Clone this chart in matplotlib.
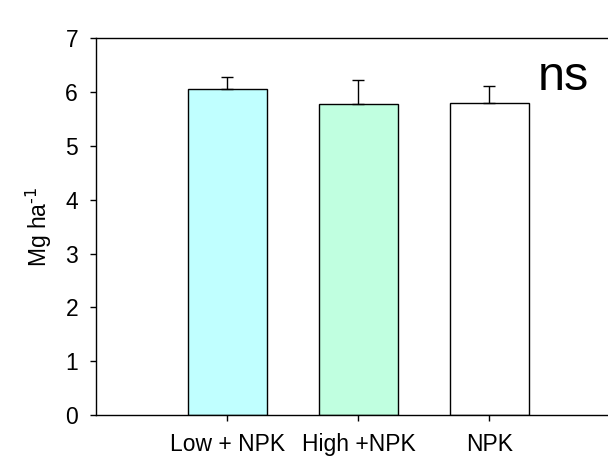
import matplotlib
matplotlib.use("Agg")
import matplotlib.pyplot as plt

categories = ["Low + NPK", "High +NPK", "NPK"]
values = [6.06, 5.77, 5.80]
errors = [0.22, 0.45, 0.31]
colors = ["#C0FFFF", "#C0FFE0", "#FFFFFF"]
yticks = [0, 1, 2, 3, 4, 5, 6, 7]

plt.rcParams['font.family'] = ['Liberation Sans', 'DejaVu Sans']
plt.rcParams['mathtext.default'] = 'regular'

fig = plt.figure(figsize=(6.08, 4.57), dpi=100)
ax = fig.add_axes([96.5/608, 42/457, 1 - 96.5/608, (415-38.3)/457])

pos = [1, 2, 3]
ax.bar(pos, values, width=0.6, color=colors, edgecolor="black", linewidth=1.0, zorder=2)
ax.errorbar(pos, values, yerr=[[0, 0, 0], errors], fmt="none", ecolor="black",
            elinewidth=1.0, capsize=4.3, capthick=1.0, zorder=3)

ax.set_xlim(0, 3.905)
ax.set_ylim(0, 7)
ax.set_yticks(yticks)
ax.set_xticks(pos)
ax.set_xticklabels(categories)
ax.tick_params(axis='both', direction='out', length=4.3, width=1, labelsize=16.5)
ax.tick_params(axis='y', pad=9)
ax.tick_params(axis='x', pad=8.5)
ax.spines['right'].set_visible(False)
for s in ['left', 'top', 'bottom']:
    ax.spines[s].set_linewidth(1.0)

ax.set_ylabel(r"Mg ha$^{\text{-1}}$", fontsize=16.5, labelpad=8)
ax.text(3.37, 6.04, "ns", fontsize=35, ha="left", va="baseline")

fig.savefig("out.png", dpi=100)
